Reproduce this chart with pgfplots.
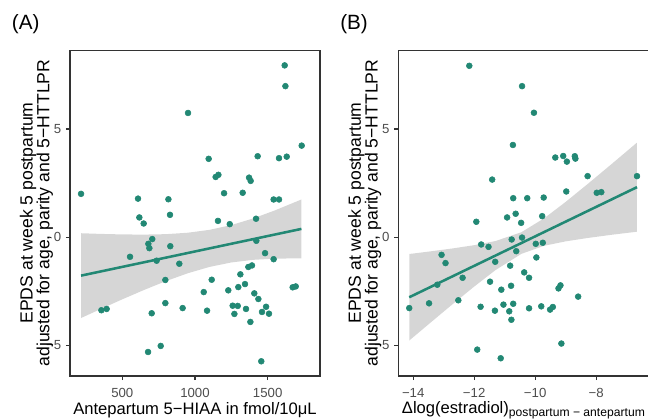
\documentclass[border=0pt]{standalone}
\usepackage{pgfplots}
\pgfplotsset{compat=1.18}
\usetikzlibrary{calc}
\usepackage{fontspec}
\setmainfont{Liberation Sans}
\definecolor{ptc}{RGB}{34,136,116}
\definecolor{tickgray}{HTML}{4D4D4D}
\definecolor{framec}{HTML}{333333}
\definecolor{bandc}{gray}{0.6}
\pgfplotsset{
  myaxis/.style={
    scale only axis, anchor=south west,
    width=187.5pt, height=244pt,
    ymin=-6.42, ymax=8.62,
    ytick={-5,0,5}, yticklabels={−5,0,5},
    tick align=outside, major tick length=3.1pt,
    xtick pos=bottom, ytick pos=left,
    tick style={framec, line width=0.8pt},
    axis line style={framec, line width=0.8pt},
    ticklabel style={font=\fontsize{9.9}{10}\selectfont, text=tickgray},
    xticklabel style={yshift=-2.4pt},
    clip=false,
  }
}
\begin{document}
\begin{tikzpicture}
\useasboundingbox (0,0) rectangle (486pt,315pt);
\begin{axis}[myaxis, at={(52.5pt,33pt)},
  xmin=140, xmax=1860, xtick={500,1000,1500}, xticklabels={500,1000,1500}]
\addplot[only marks, mark=*, mark size=2.2pt, color=ptc] coordinates {
(216,2.00) (608,1.78) (617,0.91) (647,0.63) (817,1.75) (828,1.03) (706,-0.09)
(679,-0.31) (686,-0.51) (553,-0.91) (736,-1.09) (830,-0.42) (892,-1.23) (796,-1.98)
(796,-3.05) (702,-3.52) (915,-3.28) (356,-3.38) (392,-3.32) (677,-5.31) (764,-5.03)
(952,5.74) (1094,3.62) (1142,2.78) (1161,2.88) (1200,2.03) (1158,0.75) (1239,0.60)
(1328,2.05) (1372,2.75) (1383,2.60) (1431,3.74) (1420,0.85) (1422,-0.17) (1482,-0.74)
(1541,-1.02) (1392,-1.31) (1367,-1.38) (1312,-1.72) (1115,-1.97) (1060,-2.54) (1229,-2.46)
(1298,-2.31) (1344,-2.17) (1408,-2.60) (1436,-2.86) (1259,-3.17) (1294,-3.18) (1351,-3.32)
(1271,-3.55) (1083,-3.40) (1489,-3.22) (1461,-3.46) (1509,-3.54) (1381,-3.92) (1456,-5.74)
(1617,7.94) (1622,6.98) (1578,3.65) (1631,3.72) (1734,4.23) (1541,1.74) (1578,1.74)
(1672,-2.32) (1693,-2.28)
};
\addplot[draw=none, fill=bandc, fill opacity=0.4] coordinates {
(216,0.18) (350,0.149) (500,0.125) (650,0.117) (800,0.137) (950,0.203) (1100,0.337)
(1250,0.557) (1400,0.864) (1550,1.236) (1732,1.74)
(1732,-0.98) (1550,-0.994) (1400,-1.05) (1250,-1.171) (1100,-1.377) (950,-1.671)
(800,-2.033) (650,-2.441) (500,-2.875) (350,-3.327) (216,-3.74)
} -- cycle;
\addplot[color=ptc, line width=1.9pt] coordinates {(216,-1.78) (1732,0.38)};
\end{axis}
\begin{axis}[myaxis, at={(298.7pt,33pt)},
  xmin=-14.49, xmax=-6.29, xtick={-14,-12,-10,-8}, xticklabels={−14,−12,−10,−8}]
\addplot[only marks, mark=*, mark size=2.2pt, color=ptc] coordinates {
(-14.13,-3.28) (-13.48,-3.06) (-13.07,-0.82) (-12.94,-1.20) (-13.21,-2.20) (-12.52,-2.92)
(-12.38,-1.88) (-12.16,7.92) (-11.93,0.71) (-11.77,-0.34) (-11.53,-0.45) (-11.31,-1.14)
(-11.79,-3.22) (-11.90,-5.20) (-11.48,-2.06) (-11.32,-3.40) (-11.41,2.66) (-11.11,-2.43)
(-11.04,-3.12) (-10.85,-3.43) (-10.78,-3.82) (-11.13,-5.60) (-10.92,0.91) (-10.77,-0.11)
(-10.82,-1.32) (-10.79,-2.25) (-10.72,-3.08) (-10.72,1.80) (-10.73,4.26) (-10.64,1.08)
(-10.62,-0.65) (-10.46,0.66) (-10.43,-0.02) (-10.43,6.98) (-10.36,-1.63) (-10.26,1.80)
(-10.20,-1.88) (-10.20,-3.29) (-10.04,5.75) (-9.98,-0.31) (-9.96,-0.94) (-9.80,-3.20)
(-9.77,0.97) (-9.75,-0.26) (-9.72,1.83) (-9.51,-3.35) (-9.42,-3.23) (-9.34,3.68)
(-9.235,-2.37) (-9.17,-2.23) (-9.14,-4.92) (-9.08,3.75) (-8.96,3.49) (-8.98,2.11)
(-8.70,3.74) (-8.68,3.63) (-8.59,-2.75) (-8.28,2.82) (-7.98,2.05) (-7.83,2.08) (-6.66,2.82)
};
\addplot[draw=none, fill=bandc, fill opacity=0.4] coordinates {
(-14.13,-0.78) (-13.4,-0.652) (-12.7,-0.521) (-12.0,-0.372) (-11.3,-0.181) (-10.45,0.228)
(-9.7,0.876) (-9.0,1.628) (-8.3,2.43) (-7.5,3.369) (-6.66,4.37)
(-6.66,0.25) (-7.5,0.107) (-8.3,-0.044) (-9.0,-0.196) (-9.7,-0.398) (-10.45,-0.772)
(-11.3,-1.523) (-12.0,-2.286) (-12.7,-3.091) (-13.4,-3.914) (-14.13,-4.78)
} -- cycle;
\addplot[color=ptc, line width=1.9pt] coordinates {(-14.13,-2.78) (-6.66,2.31)};
\end{axis}
% titles
\node[anchor=base west, inner sep=0pt, font=\fontsize{15.5}{16}\selectfont] at (8.8pt,292.5pt) {(A)};
\node[anchor=base west, inner sep=0pt, font=\fontsize{15.5}{16}\selectfont] at (255pt,292.5pt) {(B)};
\node[anchor=base, inner sep=0pt, font=\fontsize{12.45}{13}\selectfont] at (146.25pt,3.75pt) {Antepartum 5−HIAA in fmol/10μL};
\node[anchor=base, inner sep=0pt, font=\fontsize{12.45}{13}\selectfont] at (392.55pt,5pt) {Δlog(estradiol)\raisebox{-2.5pt}{\fontsize{9.1}{10}\selectfont postpartum − antepartum}};
\foreach \dx in {0pt,246.2pt}{
\node[anchor=base, rotate=90, inner sep=0pt, font=\fontsize{13.2}{14}\selectfont] at ($(24.5pt,155.25pt)+(\dx,0)$) {EPDS at week 5 postpartum};
\node[anchor=base, rotate=90, inner sep=0pt, font=\fontsize{13.2}{14}\selectfont] at ($(37pt,155.25pt)+(\dx,0)$) {adjusted for age, parity and 5−HTTLPR};
}
\end{tikzpicture}
\end{document}
